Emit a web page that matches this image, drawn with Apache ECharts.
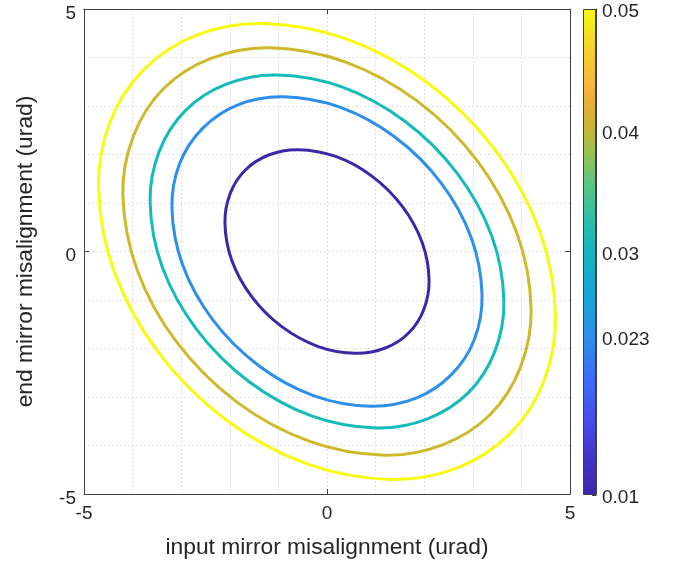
<!DOCTYPE html>
<html>
<head>
<meta charset="utf-8">
<script src="https://cdn.jsdelivr.net/npm/echarts@6/dist/echarts.min.js"></script>
<style>
  html, body { margin: 0; padding: 0; background: #fff; }
  #chart { width: 678px; height: 564px; }
</style>
</head>
<body>
<div id="chart"></div>
<script>
// contour levels, also the colorbar ticks
const levels = [0.01, 0.023, 0.03, 0.04, 0.05];
const cbarTicks = [0.01, 0.023, 0.03, 0.04, 0.05];
const cbarMin = 0.01;
const cbarMax = 0.05;

// contour points, [input, end] in urad
// (each loop starts at its right-most point and goes anticlockwise)
const contour010 = [[2.10, -0.59], [1.96, 0.18], [1.55, 0.93], [0.93, 1.55], [0.18, 1.96], [-0.59, 2.10], [-1.20, 1.99], [-1.68, 1.68], [-1.99, 1.20],
  [-2.10, 0.59], [-1.96, -0.18], [-1.55, -0.93], [-0.93, -1.55], [-0.18, -1.96], [0.59, -2.10], [1.20, -1.99], [1.68, -1.68], [1.99, -1.20]];
const contour023 = [[3.19, -0.89], [2.97, 0.28], [2.35, 1.41], [1.41, 2.35], [0.28, 2.97], [-0.89, 3.19], [-1.82, 3.03], [-2.55, 2.55], [-3.03, 1.82],
  [-3.19, 0.89], [-2.97, -0.28], [-2.35, -1.41], [-1.41, -2.35], [-0.28, -2.97], [0.89, -3.19], [1.82, -3.03], [2.55, -2.55], [3.03, -1.82]];
const contour030 = [[3.64, -1.02], [3.39, 0.32], [2.68, 1.61], [1.61, 2.68], [0.32, 3.39], [-1.02, 3.64], [-2.07, 3.45], [-2.91, 2.91], [-3.45, 2.07],
  [-3.64, 1.02], [-3.39, -0.32], [-2.68, -1.61], [-1.61, -2.68], [-0.32, -3.39], [1.02, -3.64], [2.07, -3.45], [2.91, -2.91], [3.45, -2.07]];
const contour040 = [[4.20, -1.18], [3.91, 0.37], [3.10, 1.86], [1.86, 3.10], [0.37, 3.91], [-1.18, 4.20], [-2.39, 3.98], [-3.36, 3.36], [-3.98, 2.39],
  [-4.20, 1.18], [-3.91, -0.37], [-3.10, -1.86], [-1.86, -3.10], [-0.37, -3.91], [1.18, -4.20], [2.39, -3.98], [3.36, -3.36], [3.98, -2.39]];
const contour050 = [[4.70, -1.32], [4.38, 0.41], [3.47, 2.08], [2.08, 3.47], [0.41, 4.38], [-1.32, 4.70], [-2.68, 4.46], [-3.76, 3.76], [-4.46, 2.68],
  [-4.70, 1.32], [-4.38, -0.41], [-3.47, -2.08], [-2.08, -3.47], [-0.41, -4.38], [1.32, -4.70], [2.68, -4.46], [3.76, -3.76], [4.46, -2.68]];
const contours = [contour010, contour023, contour030, contour040, contour050];

// parula colours
const levelColors = ['#3e26a8', '#2d8fea', '#14bbbb', '#cdb92b', '#f9fb0e'];
const parulaStops = [
  [0, '#3e26a8'], [0.08, '#4435c8'], [0.16, '#4650ec'], [0.24, '#3c6df8'], [0.325, '#2d8fea'],
  [0.40, '#17a2d9'], [0.50, '#12b6c0'], [0.57, '#2ebfa8'], [0.64, '#5cc680'], [0.70, '#94c256'],
  [0.75, '#c4b733'], [0.79, '#dcb136'], [0.84, '#f8b53e'], [0.90, '#f8c92f'], [0.95, '#f3e221'], [1, '#f9fb0e']
];

const axisColor = '#404040';
const textColor = '#262626';
const gridLine = { show: true, lineStyle: { color: '#e0e0e0', type: [2, 2], width: 1 } };

const chart = echarts.init(document.getElementById('chart'));

function mainAxis(pos, isMain, name) {
  const isY = pos === 'left' || pos === 'right';
  return {
    type: 'value', gridIndex: 0, position: pos,
    min: -5, max: 5, interval: 5,
    name: isMain ? name : '',
    nameLocation: 'middle',
    nameGap: isY ? 47 : 42,
    nameTextStyle: { color: textColor, fontSize: 22.8 },
    axisLine: { show: true, onZero: false, lineStyle: { color: axisColor, width: 1 } },
    axisTick: { show: true, inside: true, length: 5, lineStyle: { color: axisColor } },
    axisLabel: isY ? {
      show: isMain, color: textColor, fontSize: 19, margin: 8,
      verticalAlign: 'top', lineHeight: 9
    } : {
      show: isMain, color: textColor, fontSize: 19, margin: 10
    },
    splitLine: isMain ? gridLine : { show: false },
    minorTick: { show: false, splitNumber: 5 },
    minorSplitLine: isMain ? gridLine : { show: false }
  };
}

// each contour is a closed smooth loop through its points, placed with the axes
function contourSeries(pts, i) {
  return {
    type: 'custom',
    name: String(levels[i]),
    coordinateSystem: 'cartesian2d',
    xAxisIndex: 0,
    yAxisIndex: 0,
    data: pts,
    silent: true,
    renderItem: function (params, api) {
      if (params.dataIndex !== 0) return null;
      return {
        type: 'polygon',
        shape: { points: pts.map(p => api.coord(p)), smooth: 0.34 },
        style: { fill: 'none', stroke: levelColors[i], lineWidth: 3 }
      };
    }
  };
}

const option = {
  animation: false,
  backgroundColor: '#fff',
  textStyle: { fontFamily: 'Liberation Sans, Arial, sans-serif' },
  grid: [
    { left: 84, top: 9, width: 486, height: 486 },
    { left: 583, top: 9, width: 13, height: 486 }
  ],
  xAxis: [
    mainAxis('bottom', true, 'input mirror misalignment (urad)'),
    mainAxis('top', false),
    { type: 'category', gridIndex: 1, data: [''], show: false }
  ],
  yAxis: [
    mainAxis('left', true, 'end mirror misalignment (urad)'),
    mainAxis('right', false),
    {
      type: 'value', gridIndex: 1, position: 'right',
      min: cbarMin, max: cbarMax,
      axisLine: { show: true, lineStyle: { color: axisColor } },
      axisTick: { show: true, inside: true, length: 4, customValues: cbarTicks, lineStyle: { color: axisColor } },
      axisLabel: {
        color: textColor, fontSize: 19, margin: 6, customValues: cbarTicks,
        verticalAlign: 'top', lineHeight: 6
      },
      splitLine: { show: false }
    }
  ],
  series: contours.map(contourSeries).concat([
    {
      type: 'bar', xAxisIndex: 2, yAxisIndex: 2, stack: 'cbar',
      data: [cbarMin], barWidth: '100%', silent: true,
      itemStyle: { color: 'rgba(0,0,0,0)' }
    },
    {
      type: 'bar', xAxisIndex: 2, yAxisIndex: 2, stack: 'cbar',
      data: [cbarMax - cbarMin], barWidth: '100%', silent: true,
      itemStyle: {
        color: {
          type: 'linear', x: 0, y: 1, x2: 0, y2: 0,
          colorStops: parulaStops.map(s => ({ offset: s[0], color: s[1] }))
        },
        borderColor: axisColor,
        borderWidth: 1
      }
    }
  ])
};

chart.setOption(option);
</script>
</body>
</html>
